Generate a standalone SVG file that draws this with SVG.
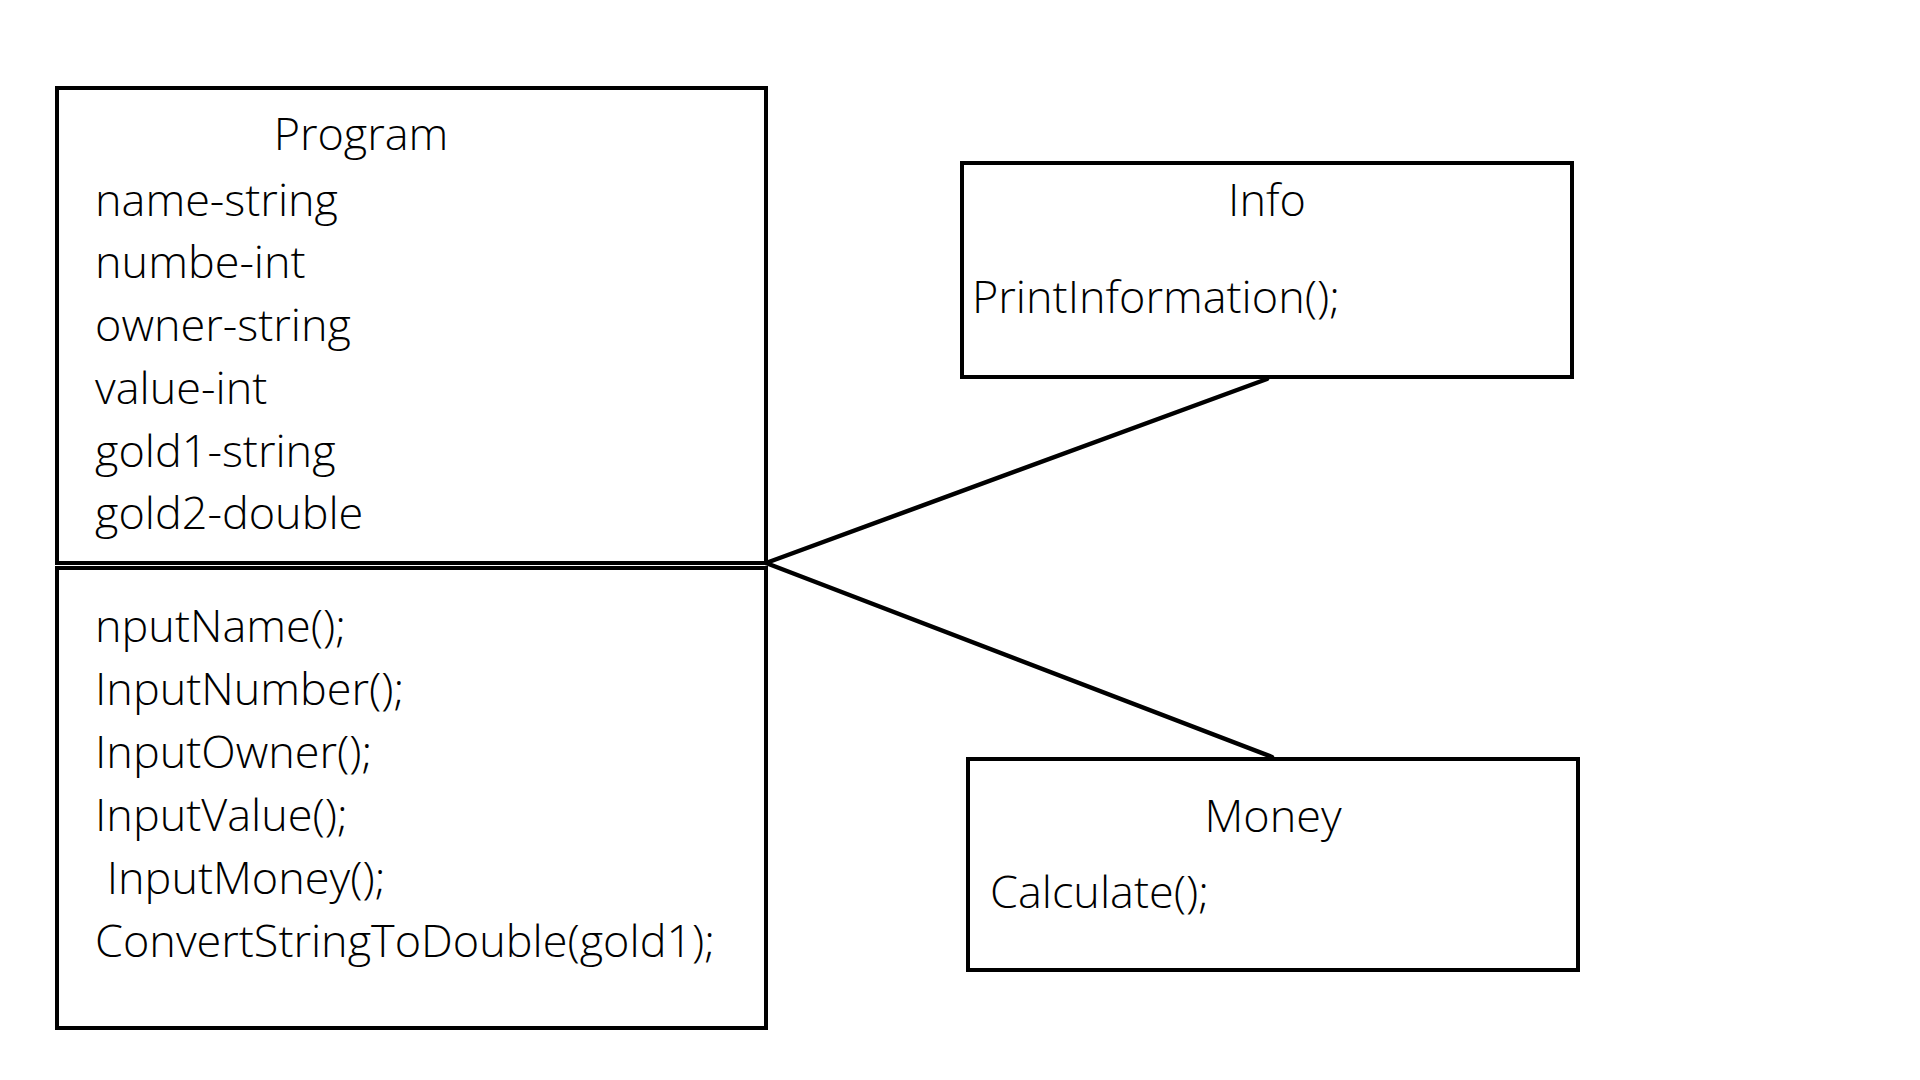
<svg xmlns="http://www.w3.org/2000/svg" width="1920" height="1080" viewBox="0 0 1920 1080">
<style>
.box{fill:none;stroke:#000;stroke-width:4}
.conn{stroke:#000;stroke-width:4.5;fill:none;stroke-linecap:round}
text{font-family:"Open Sans","Noto Sans",sans-serif;font-weight:300;font-size:45px;fill:#000}
</style>
<rect width="1920" height="1080" fill="#fff"/>
<g id="connectors">
<line class="conn" x1="766" y1="563" x2="1267" y2="379"/>
<line class="conn" x1="766" y1="563" x2="1272" y2="757"/>
</g>
<g id="program">
<rect class="box" x="57" y="88" width="709" height="475"/>
<text x="361" y="150" text-anchor="middle">Program</text>
<text x="95" y="216">name-string</text>
<text x="95" y="278">numbe-int</text>
<text x="95" y="341">owner-string</text>
<text x="95" y="404">value-int</text>
<text x="95" y="467">gold1-string</text>
<text x="95" y="529">gold2-double</text>
</g>
<g id="program-methods">
<rect class="box" x="57" y="568" width="709" height="460"/>
<text x="95" y="642">nputName();</text>
<text x="95" y="705">InputNumber();</text>
<text x="95" y="768">InputOwner();</text>
<text x="95" y="831">InputValue();</text>
<text x="95" y="894" xml:space="preserve"> InputMoney();</text>
<text x="95" y="957">ConvertStringToDouble(gold1);</text>
</g>
<g id="info">
<rect class="box" x="962" y="163" width="610" height="214"/>
<text x="1267" y="216" text-anchor="middle">Info</text>
<text x="972" y="313">PrintInformation();</text>
</g>
<g id="money">
<rect class="box" x="968" y="759" width="610" height="211"/>
<text x="1273" y="832" text-anchor="middle">Money</text>
<text x="990" y="908">Calculate();</text>
</g>
</svg>
